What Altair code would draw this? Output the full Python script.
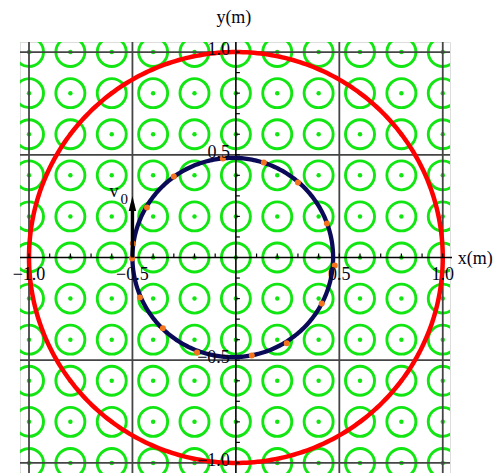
import altair as alt
import numpy as np
import pandas as pd

# ---------------- data ----------------
# centres of the "field out of page" symbols (0.2 m lattice)
field_x = [-1.0, -0.8, -0.6, -0.4, -0.2, 0.0, 0.2, 0.4, 0.6, 0.8, 1.0]
field_y = [-1.0, -0.8, -0.6, -0.4, -0.2, 0.0, 0.2, 0.4, 0.6, 0.8, 1.0]

grid_values = [-1.0, -0.5, 0.5, 1.0]
tick_values = [-1.0, -0.9, -0.8, -0.7, -0.6, -0.5, -0.4, -0.3, -0.2, -0.1,
               0.1, 0.2, 0.3, 0.4, 0.5, 0.6, 0.7, 0.8, 0.9, 1.0]

x_label_values = [-1.0, -0.5, 0.5, 1.0]
x_label_texts = ["\u22121.0", "\u22120.5", "0.5", "1.0"]
y_label_values = [1.0, 0.5, -0.5, -1.0]
y_label_texts = ["1.0", "0.5", "\u22120.5", "\u22121.0"]

# boundary of the field region (red) and particle path (navy)
boundary_center = [0.0, 0.0]
boundary_radius = 1.0
path_center = [-0.015, 0.0]
path_radius = 0.485

# orange markers along the path
orange_x = [-0.502, -0.498, -0.43, -0.30, -0.063, 0.135, 0.30, 0.44, 0.478,
            0.415, 0.246, 0.077, -0.188, -0.353, -0.464]
orange_y = [-0.005, 0.068, 0.243, 0.394, 0.482, 0.462, 0.365, 0.165, -0.039,
            -0.224, -0.418, -0.477, -0.462, -0.345, -0.195]

# initial velocity arrow
v0_x = -0.5
v0_y0 = 0.0
v0_y1 = 0.263

# ---------------- styling ----------------
GREEN = "#12e612"
NAVY = "#0a0a58"
ORANGE = "#f5731c"
RED = "#ff0000"
GRID = "#454545"
FONT = "Liberation Serif"
TXT = "#050518"

W, H = 430, 431
xs = alt.Scale(domain=[-1.0435, 1.035], nice=False, zero=False)
ys = alt.Scale(domain=[-1.049, 1.049], nice=False, zero=False)


def X(f, **kw):
    return alt.X(f, type="quantitative", scale=xs, axis=None, **kw)


def Y(f, **kw):
    return alt.Y(f, type="quantitative", scale=ys, axis=None, **kw)


field_df = pd.DataFrame([(x, y) for x in field_x for y in field_y], columns=["x", "y"])

field_rings = alt.Chart(field_df).mark_point(
    shape="circle", filled=False, size=841, strokeWidth=2.9, color=GREEN, opacity=1, clip=True
).encode(x=X("x"), y=Y("y"))

field_dots = alt.Chart(field_df).mark_point(
    shape="circle", filled=True, size=20, color=GREEN, opacity=1, clip=True
).encode(x=X("x"), y=Y("y"))

grid_df = pd.DataFrame({"v": grid_values})
vgrid = alt.Chart(grid_df).mark_rule(color=GRID, strokeWidth=1.8).encode(
    x=X("v"), y=alt.value(0), y2=alt.value(H))
hgrid = alt.Chart(grid_df).mark_rule(color=GRID, strokeWidth=1.8).encode(
    y=Y("v"), x=alt.value(0), x2=alt.value(W))

zero_df = pd.DataFrame({"v": [0.0]})
x_axis = alt.Chart(zero_df).mark_rule(color="black", strokeWidth=1.6).encode(
    y=Y("v"), x=alt.value(0), x2=alt.value(W + 2))
y_axis = alt.Chart(zero_df).mark_rule(color="black", strokeWidth=1.6).encode(
    x=X("v"), y=alt.value(0), y2=alt.value(H))

tick_df = pd.DataFrame({"v": tick_values, "z": 0.0})
x_ticks = alt.Chart(tick_df).mark_rule(color="black", strokeWidth=1.2, y2Offset=-4).encode(
    x=X("v"), y=Y("z"), y2=alt.Y2("z"))
y_ticks = alt.Chart(tick_df).mark_rule(color="black", strokeWidth=1.2, x2Offset=4).encode(
    y=Y("v"), x=X("z"), x2=alt.X2("z"))


def circle_df(center, radius):
    ang = np.radians(np.linspace(0.0, 360.0, 361))
    return pd.DataFrame({
        "x": center[0] + radius * np.cos(ang),
        "y": center[1] + radius * np.sin(ang),
        "o": np.arange(ang.size),
    })


red_circle = alt.Chart(circle_df(boundary_center, boundary_radius)).mark_line(
    color=RED, strokeWidth=4.5, clip=True
).encode(x=X("x"), y=Y("y"), order="o:Q")

navy_circle = alt.Chart(circle_df(path_center, path_radius)).mark_line(
    color=NAVY, strokeWidth=4.3
).encode(x=X("x"), y=Y("y"), order="o:Q")

orange_pts = alt.Chart(pd.DataFrame({"x": orange_x, "y": orange_y})).mark_point(
    shape="circle", filled=True, size=36, color=ORANGE, opacity=1
).encode(x=X("x"), y=Y("y"))

arrow_df = pd.DataFrame({"x": [v0_x], "y0": [v0_y0], "y1": [v0_y1]})
arrow_shaft = alt.Chart(arrow_df).mark_rule(color="black", strokeWidth=3.4).encode(
    x=X("x"), y=Y("y0"), y2=alt.Y2("y1"))
arrow_head = alt.Chart(arrow_df).mark_point(
    shape="M0,-1L0.5,1L-0.5,1Z", filled=True, size=225, color="black", opacity=1
).encode(x=X("x"), y=Y("y1"))

v_label = alt.Chart(arrow_df).mark_text(
    text="v", font=FONT, fontSize=18, color=TXT, align="left", baseline="alphabetic",
    dx=-23, dy=-6
).encode(x=X("x"), y=Y("y1"))
v_sub = alt.Chart(arrow_df).mark_text(
    text="0", font=FONT, fontSize=15, color=TXT, align="left", baseline="alphabetic",
    dx=-12, dy=1
).encode(x=X("x"), y=Y("y1"))

xl_df = pd.DataFrame({"v": x_label_values, "t": x_label_texts, "z": 0.0})
x_labels = alt.Chart(xl_df).mark_text(
    font=FONT, fontSize=18, color=TXT, align="center", baseline="alphabetic", dy=22
).encode(x=X("v"), y=Y("z"), text="t:N")

yl_df = pd.DataFrame({"v": y_label_values, "t": y_label_texts, "z": 0.0})
y_labels = alt.Chart(yl_df).mark_text(
    font=FONT, fontSize=18, color=TXT, align="right", baseline="middle", dx=-6, dy=-2
).encode(y=Y("v"), x=X("z"), text="t:N")

title_df = pd.DataFrame({"x": [1.0, 0.0], "y": [0.0, 1.0], "t": ["x(m)", "y(m)"]})
x_title = alt.Chart(title_df.iloc[[0]]).mark_text(
    font=FONT, fontSize=18, color=TXT, align="left", baseline="alphabetic", dx=15, dy=6
).encode(x=X("x"), y=Y("y"), text="t:N")
y_title = alt.Chart(title_df.iloc[[1]]).mark_text(
    font=FONT, fontSize=18, color=TXT, align="center", baseline="alphabetic", dx=-2, dy=-29
).encode(x=X("x"), y=Y("y"), text="t:N")

chart = alt.layer(
    field_rings, field_dots, vgrid, hgrid, red_circle, x_axis, y_axis, x_ticks, y_ticks,
    navy_circle, orange_pts, arrow_shaft, arrow_head, v_label, v_sub,
    x_labels, y_labels, x_title, y_title
).properties(
    width=W, height=H,
    autosize=alt.AutoSizeParams(type="none"),
    padding={"left": 12, "top": 34, "right": 44, "bottom": 0},
).configure_view(stroke=None).configure(background="white")

chart.save("out.html", embed_options={"renderer": "svg", "actions": False})
